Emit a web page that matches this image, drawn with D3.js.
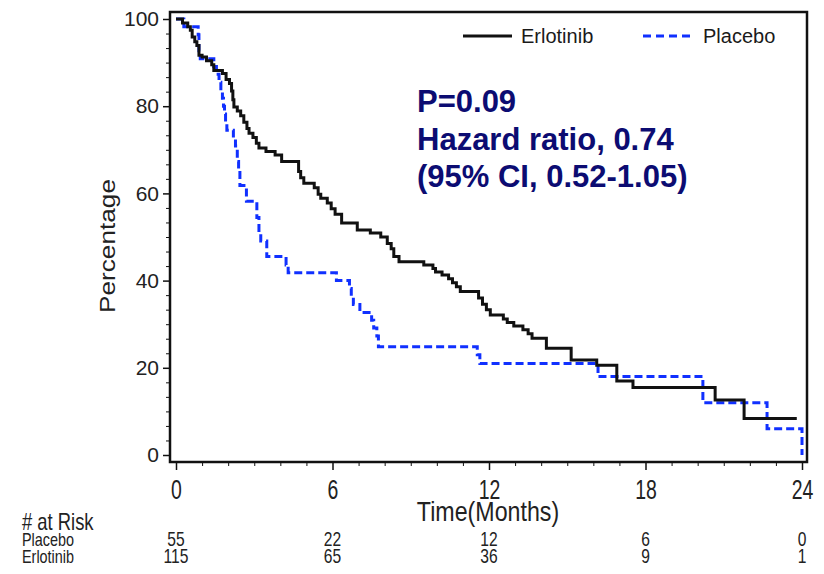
<!DOCTYPE html>
<html>
<head>
<meta charset="utf-8">
<script src="https://cdn.jsdelivr.net/npm/d3@7"></script>
<style>
  body { margin: 0; background: #fff; }
  svg { display: block; }
  text { font-family: Arial, "Liberation Sans", sans-serif; }
</style>
</head>
<body>
<script>
// Kaplan-Meier steps (months, percent)
var erlotinibMonths = [0, 0.25, 0.45, 0.55, 0.62, 0.72, 0.8, 0.88, 1.0, 1.17, 1.37, 1.45, 1.78, 1.92, 2.05, 2.13, 2.18, 2.22, 2.35, 2.48, 2.6, 2.72, 2.8, 2.95, 3.08, 3.18, 3.45, 3.8, 4.05, 4.7, 4.78, 4.9, 5.3, 5.45, 5.55, 5.8, 5.95, 6.1, 6.35, 6.95, 7.45, 7.85, 8.1, 8.25, 8.35, 8.55, 9.5, 9.85, 9.95, 10.2, 10.45, 10.6, 10.75, 10.9, 11.6, 11.75, 11.9, 12.05, 12.55, 12.7, 12.95, 13.3, 13.5, 13.65, 14.2, 15.15, 16.13, 16.9, 17.52, 20.67, 21.78, 23.8];
var erlotinibPct = [100, 99.1, 98.2, 97.4, 95.9, 94.8, 93.9, 91.7, 91.3, 90.4, 89.5, 88.2, 87.5, 86.1, 85.2, 83.5, 81.5, 79.8, 78.9, 77.8, 76.3, 74.9, 73.8, 72.8, 71.5, 70.4, 69.6, 68.8, 67.3, 65.0, 63.6, 62.3, 61.3, 59.8, 58.9, 57.8, 56.5, 55.2, 53.2, 51.6, 50.9, 50.0, 48.5, 47.3, 45.5, 44.3, 43.6, 42.8, 42.0, 41.3, 40.4, 39.5, 38.6, 37.5, 36.0, 34.6, 33.3, 32.1, 31.2, 30.4, 29.6, 28.7, 27.8, 26.8, 24.5, 21.8, 20.6, 17.0, 15.5, 12.6, 8.4, 8.4];

var placeboMonths = [0, 0.3, 0.85, 0.88, 0.93, 1.45, 1.55, 1.65, 1.72, 1.78, 1.82, 1.86, 1.9, 1.95, 2.2, 2.28, 2.35, 2.4, 2.45, 2.7, 3.1, 3.18, 3.25, 3.48, 4.22, 4.3, 6.15, 6.65, 6.72, 6.8, 7.05, 7.5, 7.58, 7.7, 7.76, 11.55, 11.65, 16.18, 20.2, 22.66, 24.0];
var placeboPct = [100, 98.2, 96.4, 92.7, 90.9, 89.1, 87.3, 85.5, 83.6, 81.8, 80.0, 78.2, 76.4, 74.5, 72.7, 70.9, 67.3, 65.5, 61.8, 58.2, 54.5, 50.9, 49.1, 45.5, 43.6, 41.8, 40.0, 38.2, 36.4, 34.5, 32.7, 30.9, 29.1, 27.3, 24.8, 23.0, 21.0, 18.0, 12.0, 6.0, 0];

var xTicks = [0, 6, 12, 18, 24];
var yTicks = [0, 20, 40, 60, 80, 100];
var riskGroups = ["Placebo", "Erlotinib"];
var riskPlacebo = [55, 22, 12, 6, 0];
var riskErlotinib = [115, 65, 36, 9, 1];
var statLines = ["P=0.09", "Hazard ratio, 0.74", "(95% CI, 0.52-1.05)"];

var blue = "#1030ff";
var navy = "#0c0c72";
var ink = "#1a1a1a";

var svg = d3.select("body").append("svg")
    .attr("width", 824)
    .attr("height", 574);

var x = d3.scaleLinear().domain([0, 24]).range([176, 802]);
var y = d3.scaleLinear().domain([0, 100]).range([455, 19]);

// frame
svg.append("rect")
    .attr("x", 170).attr("y", 12)
    .attr("width", 637).attr("height", 450)
    .attr("fill", "none")
    .attr("stroke", "#111")
    .attr("stroke-width", 2.5);

// y axis (major + minor ticks)
var yMinor = d3.range(0, 100.001, 20 / 6).filter(function(d) { return Math.abs(d / 20 - Math.round(d / 20)) > 0.01; });
svg.append("g")
    .attr("transform", "translate(170,0)")
    .call(d3.axisLeft(y).tickValues(yMinor).tickSize(4).tickFormat(""))
    .call(function(g) { g.select(".domain").remove(); });
var yAx = svg.append("g")
    .attr("transform", "translate(170,0)")
    .call(d3.axisLeft(y).tickValues(yTicks).tickSize(7).tickPadding(4));
yAx.select(".domain").remove();
yAx.selectAll(".tick line").attr("stroke-width", 1.5);
yAx.selectAll(".tick text")
    .attr("font-family", "Arial, 'Liberation Sans', sans-serif")
    .attr("font-size", 21)
    .attr("fill", "#222");

// x axis
var xMinor = d3.range(0, 25, 1).filter(function(d) { return d % 6 !== 0; });
svg.append("g")
    .attr("transform", "translate(0,462)")
    .call(d3.axisBottom(x).tickValues(xMinor).tickSize(4).tickFormat(""))
    .call(function(g) { g.select(".domain").remove(); });
var xAx = svg.append("g")
    .attr("transform", "translate(0,462)")
    .call(d3.axisBottom(x).tickValues(xTicks).tickSize(8).tickPadding(10));
xAx.select(".domain").remove();
xAx.selectAll(".tick line").attr("stroke-width", 1.5);
xAx.selectAll(".tick text")
    .attr("font-family", "Arial, 'Liberation Sans', sans-serif")
    .attr("font-size", 27)
    .attr("fill", "#222")
    .attr("transform", "scale(0.72,1)");

svg.selectAll(".tick line").attr("stroke", "#111");

// axis titles
svg.append("text")
    .attr("transform", "translate(115,246) rotate(-90)")
    .attr("text-anchor", "middle")
    .attr("font-size", 22)
    .attr("textLength", 134)
    .attr("lengthAdjust", "spacingAndGlyphs")
    .attr("fill", "#222")
    .text("Percentage");

svg.append("text")
    .attr("transform", "translate(488,521) scale(0.86,1)")
    .attr("text-anchor", "middle")
    .attr("font-size", 27)
    .attr("fill", "#222")
    .text("Time(Months)");

// KM curves
var line = d3.line()
    .x(function(d) { return x(d[0]); })
    .y(function(d) { return y(d[1]); })
    .curve(d3.curveStepAfter);

svg.append("path")
    .datum(d3.zip(placeboMonths, placeboPct))
    .attr("d", line)
    .attr("fill", "none")
    .attr("stroke", blue)
    .attr("stroke-width", 3)
    .attr("stroke-dasharray", "8,4");

svg.append("path")
    .datum(d3.zip(erlotinibMonths, erlotinibPct))
    .attr("d", line)
    .attr("fill", "none")
    .attr("stroke", "#111")
    .attr("stroke-width", 3);

// legend
var legend = svg.append("g");
legend.append("line")
    .attr("x1", 463).attr("x2", 512).attr("y1", 36).attr("y2", 36)
    .attr("stroke", "#111").attr("stroke-width", 3);
legend.append("text")
    .attr("x", 521).attr("y", 43)
    .attr("font-size", 20)
    .attr("fill", ink)
    .text("Erlotinib");
legend.append("line")
    .attr("x1", 643).attr("x2", 692).attr("y1", 36).attr("y2", 36)
    .attr("stroke", blue).attr("stroke-width", 3)
    .attr("stroke-dasharray", "8,5");
legend.append("text")
    .attr("x", 703).attr("y", 43)
    .attr("font-size", 20)
    .attr("fill", ink)
    .text("Placebo");

// statistics
svg.append("g").selectAll("text")
    .data(statLines)
    .enter()
    .append("text")
    .attr("x", 417)
    .attr("y", function(d, i) { return 112 + i * 37.5; })
    .attr("font-size", 31)
    .attr("font-weight", "bold")
    .attr("fill", navy)
    .text(function(d) { return d; });

// number at risk table
svg.append("text")
    .attr("transform", "translate(22,530) scale(0.8,1)")
    .attr("font-size", 23)
    .attr("fill", "#222")
    .text("# at Risk");

var rows = [riskPlacebo, riskErlotinib];
rows.forEach(function(vals, r) {
    var by = 546 + r * 17;
    svg.append("text")
        .attr("transform", "translate(22," + by + ") scale(0.8,1)")
        .attr("font-size", 18)
        .attr("fill", "#222")
        .text(riskGroups[r]);
    svg.append("g").selectAll("text")
        .data(vals)
        .enter()
        .append("text")
        .attr("transform", function(d, i) { return "translate(" + x(xTicks[i]) + "," + by + ") scale(0.78,1)"; })
        .attr("text-anchor", "middle")
        .attr("font-size", 20)
        .attr("fill", "#222")
        .text(function(d) { return d; });
});
</script>
</body>
</html>
